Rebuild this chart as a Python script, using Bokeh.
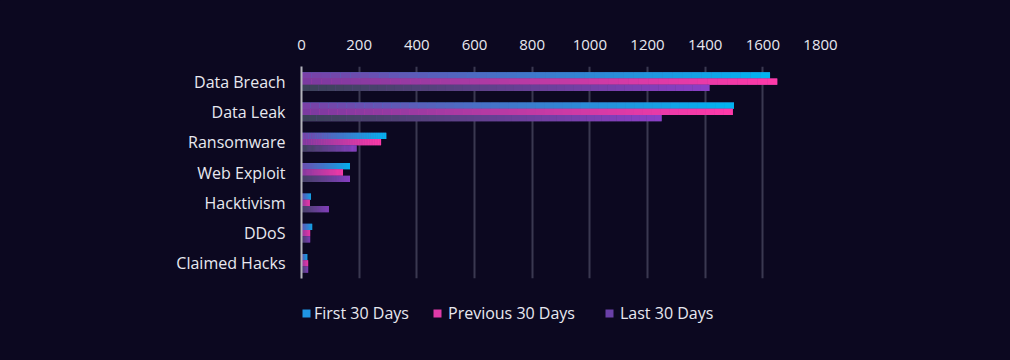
import numpy as np
from bokeh.plotting import figure
from bokeh.layouts import column
from bokeh.models import Range1d, Legend, LegendItem, ColumnDataSource, FixedTicker
from bokeh.transform import dodge
from bokeh.embed import file_html
from bokeh.resources import INLINE

categories = ["Data Breach", "Data Leak", "Ransomware", "Web Exploit",
              "Hacktivism", "DDoS", "Claimed Hacks"]
series_names = ["First 30 Days", "Previous 30 Days", "Last 30 Days"]
first_30 = [1625, 1500, 294, 168, 33, 37, 20]
previous_30 = [1650, 1496, 276, 144, 29, 30, 23]
last_30 = [1415, 1249, 191, 168, 95, 30, 23]
x_ticks = [0, 200, 400, 600, 800, 1000, 1200, 1400, 1600, 1800]

BG = "#0c0820"
TXT = "#e8e8f0"
FONT = "Open Sans"
gradients = [("#7b3fa6", "#00b4f0"), ("#7a3aa0", "#ff3aa8"), ("#3a4258", "#8c3fc8")]
legend_colors = ["#1f95e4", "#e03aa8", "#6a40a8"]
legend_x = [0, 131, 303]      # px from the left edge of the plot frame
legend_standoff = [3, 6, 6]
offsets = [0.207, 0.0, -0.207]
BAR_H = 0.207
N = 48

LEFT, RIGHT = 301, 190


def hex2rgb(h):
    h = h.lstrip("#")
    return np.array([int(h[i:i + 2], 16) for i in (0, 2, 4)], dtype=float)


def mix(c0, c1, t):
    c = hex2rgb(c0) * (1 - t) + hex2rgb(c1) * t
    return "#%02x%02x%02x" % tuple(int(round(v)) for v in c)


p = figure(width=1010, height=300, y_range=list(reversed(categories)),
           x_range=Range1d(0, 1800), x_axis_location="above",
           output_backend="svg", toolbar_location=None,
           min_border_left=LEFT, min_border_right=RIGHT,
           min_border_top=66, min_border_bottom=22)
p.background_fill_color = BG
p.border_fill_color = BG
p.outline_line_color = None

series = [first_30, previous_30, last_30]
for s, vals in enumerate(series):
    c0, c1 = gradients[s]
    # base bar under the gradient slices
    p.hbar(y=dodge("y", offsets[s], range=p.y_range), left=0, right="v",
           height=BAR_H, fill_color=mix(c0, c1, 0.5), line_color=None,
           source=ColumnDataSource(dict(y=categories, v=vals)))
    ys, ls, rs, cs = [], [], [], []
    for cat, v in zip(categories, vals):
        for k in range(N):
            ys.append(cat)
            ls.append(v * k / N)
            rs.append(v * (k + 1) / N)
            cs.append(mix(c0, c1, (k + 0.5) / N))
    src = ColumnDataSource(dict(y=ys, left=ls, right=rs, color=cs))
    p.hbar(y=dodge("y", offsets[s], range=p.y_range), left="left", right="right",
           height=BAR_H, fill_color="color", line_color=None, source=src)

p.xgrid.ticker = FixedTicker(ticks=x_ticks)
p.xgrid.grid_line_color = "#3a3850"
p.xgrid.grid_line_width = 2
p.ygrid.grid_line_color = None

p.xaxis.ticker = FixedTicker(ticks=x_ticks)
p.xaxis.axis_line_color = None
p.xaxis.major_tick_line_color = None
p.xaxis.minor_tick_line_color = None
p.xaxis.major_label_text_font = FONT
p.xaxis.major_label_text_font_size = "15px"
p.xaxis.major_label_text_color = TXT
p.xaxis.major_label_standoff = 11

p.yaxis.axis_line_color = "#b4b4bc"
p.yaxis.axis_line_width = 2
p.yaxis.major_tick_line_color = None
p.yaxis.minor_tick_line_color = None
p.yaxis.major_label_text_font = FONT
p.yaxis.major_label_text_font_size = "16px"
p.yaxis.major_label_text_color = TXT
p.yaxis.major_label_standoff = 10

# legend strip below the chart
lg = figure(width=1010, height=60, x_range=Range1d(0, 1), y_range=Range1d(0, 1),
            output_backend="svg", toolbar_location=None,
            min_border_left=LEFT, min_border_right=RIGHT,
            min_border_top=0, min_border_bottom=0)
lg.background_fill_color = BG
lg.border_fill_color = BG
lg.outline_line_color = None
lg.axis.visible = False
lg.grid.visible = False

for s, name in enumerate(series_names):
    # proxy glyph placed far outside the visible range, only used for the legend key
    r = lg.quad(top=[-50], bottom=[-51], left=[-60], right=[-59],
                fill_color=legend_colors[s], line_color=None)
    leg = Legend(items=[LegendItem(label=name, renderers=[r])],
                 location=(legend_x[s], 36),
                 background_fill_alpha=0, border_line_color=None,
                 padding=0, margin=0, label_standoff=legend_standoff[s],
                 glyph_width=10, glyph_height=10,
                 label_text_font=FONT, label_text_font_size="16px",
                 label_text_color=TXT)
    lg.add_layout(leg, "center")

layout = column(p, lg, spacing=0)
html = file_html(layout, INLINE)
html = html.replace("<head>", "<head><style>html,body{background:%s;}</style>" % BG, 1)
open("out.html", "w").write(html)
